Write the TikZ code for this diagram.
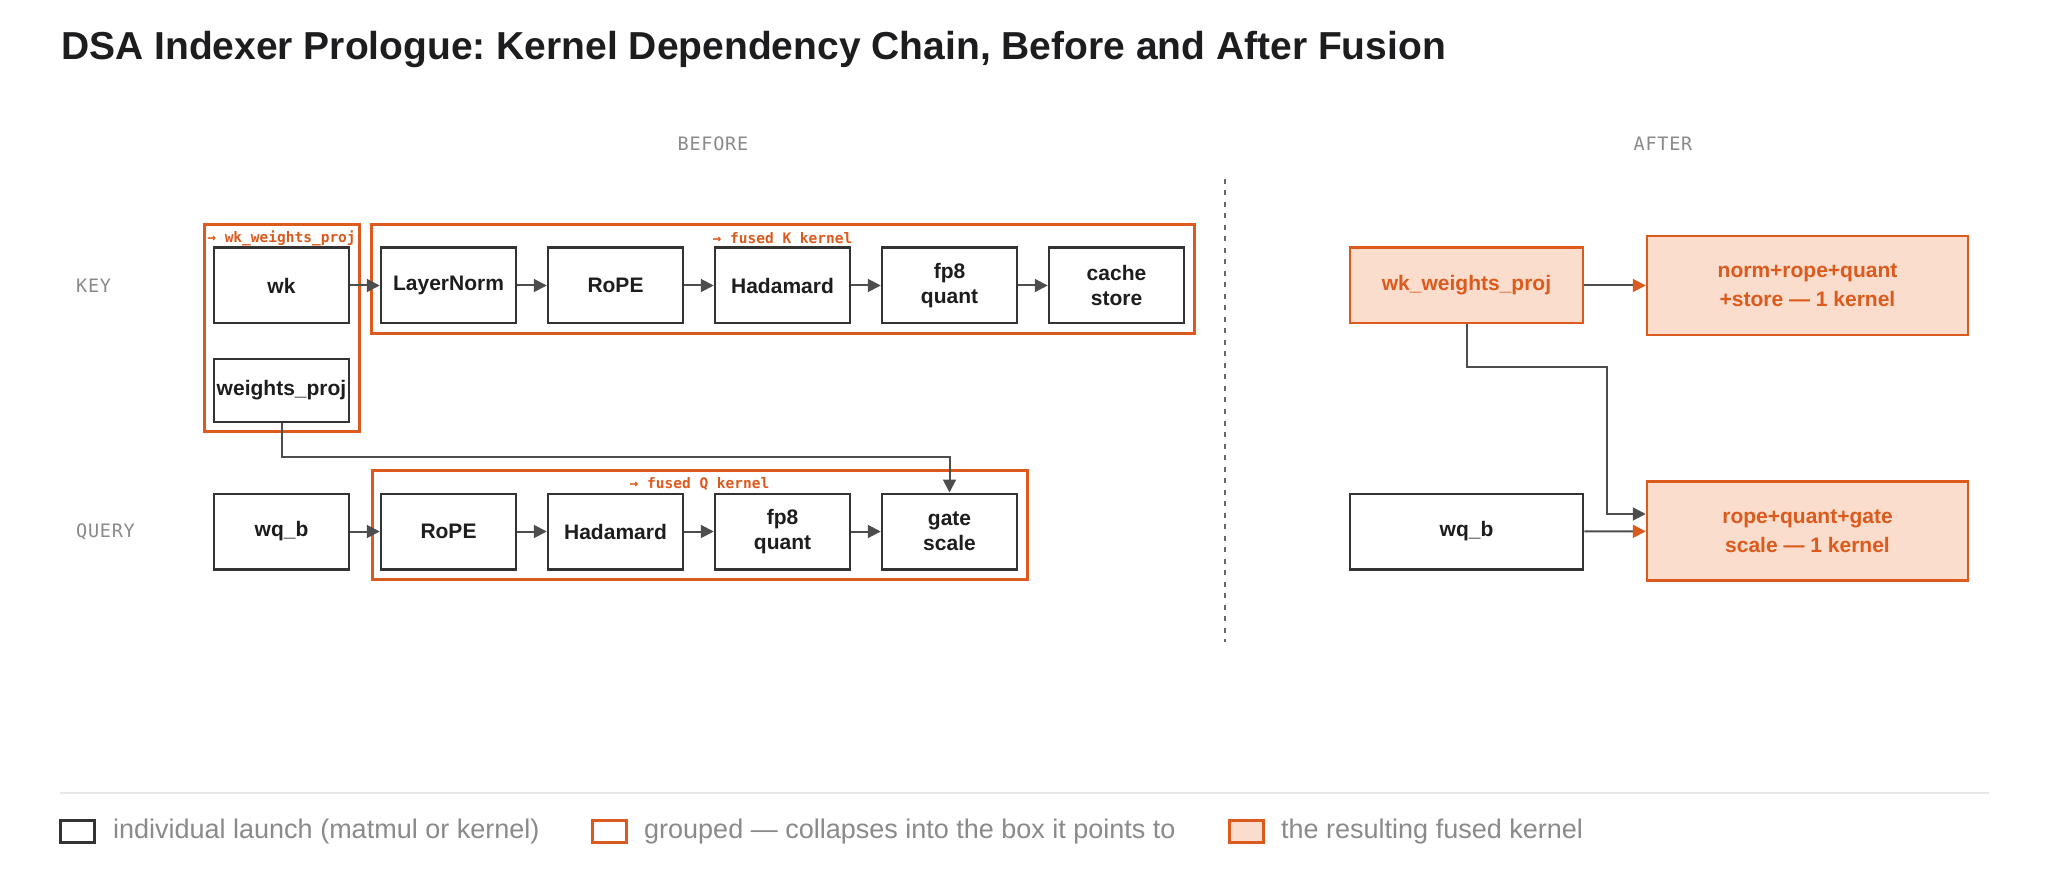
\documentclass[tikz,border=0pt]{standalone}
\usepackage{fontspec}
\setmainfont{Liberation Sans}
\newfontfamily\monofont{DejaVu Sans Mono}
\newfontfamily\monospaced[LetterSpace=4]{DejaVu Sans Mono}
\usetikzlibrary{arrows.meta}
\frenchspacing
\definecolor{ink}{HTML}{1D1D1F}
\definecolor{boxline}{HTML}{333333}
\definecolor{org}{HTML}{DC5A1E}
\definecolor{orgfill}{HTML}{FADDCC}
\definecolor{wirec}{HTML}{4D4D4D}
\definecolor{muted}{HTML}{8A8A8A}
\definecolor{rulec}{HTML}{E8E8E8}
\begin{document}
\begin{tikzpicture}[x=1pt,y=-1pt,
  kbox/.style={draw=boxline,line width=2.5pt,fill=white,minimum width=135pt,minimum height=75.5pt,inner sep=0pt,align=center,text=ink,font=\fontsize{21}{25}\selectfont\bfseries},
  grpbox/.style={draw=org,line width=3pt,inner sep=0pt},
  fusedbox/.style={draw=org,fill=orgfill,line width=2.5pt,inner sep=0pt,align=center,text=org,font=\fontsize{21}{28.5}\selectfont\bfseries},
  glabel/.style={text=org,inner sep=0pt,font=\monofont\fontsize{14.5}{16}\selectfont\bfseries},
  seclabel/.style={text=muted,inner sep=0pt,font=\monospaced\fontsize{18.5}{20}\selectfont},
  wire/.style={draw=wirec,line width=2pt,-{Triangle[length=13pt,width=13pt]}},
  owire/.style={draw=wirec,line width=2pt,-{Triangle[length=13pt,width=13pt,color=org,fill=org]}},
  legtext/.style={anchor=west,text=muted,inner sep=0pt,font=\fontsize{27}{30}\selectfont},
  legbox/.style={line width=3pt,minimum width=34pt,minimum height=22pt,inner sep=0pt}
]
\fill[white] (0,0) rectangle (2048,890);
\useasboundingbox (0,0) rectangle (2048,890);

% title
\node[anchor=base west,inner sep=0pt,text=ink,font=\fontsize{39}{44}\selectfont\bfseries] (title) at (61,60)
  {DSA Indexer Prologue: Kernel Dependency Chain, Before and After Fusion};

% section labels
\node[seclabel] (before) at (713,144) {BEFORE};
\node[seclabel] (after) at (1663,144) {AFTER};
\node[seclabel,anchor=west] (keylab) at (76,285.5) {KEY};
\node[seclabel,anchor=west] (qlab) at (76,531.5) {QUERY};

% divider
\coordinate (dtop) at (1225,179);
\coordinate (dbot) at (1225,642);
\draw[draw=wirec!85,line width=2.5pt,dash pattern=on 5pt off 6.5pt] (dtop) -- (dbot);

% groups (before)
\node[grpbox,minimum width=155pt,minimum height=206.3pt] (wkgrp) at (281.5,327.85) {};
\node[grpbox,minimum width=823pt,minimum height=108.6pt] (kgrp) at (782.5,279) {};
\node[grpbox,minimum width=655pt,minimum height=109pt] (qgrp) at (699.5,524.5) {};
\node[glabel] (wkgl) at (281.5,238) {→ wk\_weights\_proj};
\node[glabel] (kgl) at (782.5,238) {→ fused K kernel};
\node[glabel] (qgl) at (699.5,483.5) {→ fused Q kernel};

% key row
\node[kbox] (wk) at (281.5,285.5) {wk};
\node[kbox] (ln) at (448.5,285.5) {LayerNorm};
\node[kbox] (ropek) at (615.5,285.5) {RoPE};
\node[kbox] (hadk) at (782.5,285.5) {Hadamard};
\node[kbox] (fp8k) at (949.5,285.5) {fp8\\quant};
\node[kbox] (cache) at (1116.5,285.5) {cache\\store};
\node[kbox,minimum height=63pt] (wp) at (281.5,390.5) {weights\_proj};

% query row
\node[kbox] (wqb) at (281.5,531.5) {wq\_b};
\node[kbox] (ropeq) at (448.5,531.5) {RoPE};
\node[kbox] (hadq) at (615.5,531.5) {Hadamard};
\node[kbox] (fp8q) at (782.5,531.5) {fp8\\quant};
\node[kbox] (gate) at (949.5,531.5) {gate\\scale};

% before arrows
\draw[wire] (wk) -- (ln);
\draw[wire] (ln) -- (ropek);
\draw[wire] (ropek) -- (hadk);
\draw[wire] (hadk) -- (fp8k);
\draw[wire] (fp8k) -- (cache);
\draw[wire] (wqb) -- (ropeq);
\draw[wire] (ropeq) -- (hadq);
\draw[wire] (hadq) -- (fp8q);
\draw[wire] (fp8q) -- (gate);
\coordinate (wpbend) at (281.5,457);
\draw[wire] (wp.south) -- (wpbend) -| (gate.north);

% after
\node[fusedbox,minimum width=233pt,minimum height=75.5pt] (wkw) at (1466.5,285.5) {wk\_weights\_proj};
\node[fusedbox,minimum width=321pt,minimum height=99pt] (normk) at (1807.5,285.5) {norm+rope+quant\\+store — 1 kernel};
\node[kbox,minimum width=233pt,minimum height=75.5pt] (wqb2) at (1466.5,531.5) {wq\_b};
\node[fusedbox,minimum width=321pt,minimum height=99pt] (ropeq2) at (1807.5,531.2) {rope+quant+gate\\scale — 1 kernel};

\draw[owire] (wkw) -- (normk);
\draw[owire] (wqb2) -- (ropeq2);
\coordinate (ab1) at (1607,367);
\coordinate (ab2) at (1607,514);
\draw[wire] (wkw.south) |- (ab1) -- (ab2) -- (ropeq2.west |- ab2);

% legend
\coordinate (rl) at (60,793);
\coordinate (rr) at (1989,793);
\draw[draw=rulec,line width=2pt] (rl) -- (rr);
\node[legbox,draw=boxline,fill=white] (lg1) at (77.5,831.5) {};
\node[legtext] (lt1) at (113,831.5) {individual launch (matmul or kernel)};
\node[legbox,draw=org,fill=white] (lg2) at (609.5,831.5) {};
\node[legtext] (lt2) at (644,831.5) {grouped — collapses into the box it points to};
\node[legbox,draw=org,fill=orgfill] (lg3) at (1246.5,831.5) {};
\node[legtext] (lt3) at (1281,831.5) {the resulting fused kernel};
\end{tikzpicture}
\end{document}
